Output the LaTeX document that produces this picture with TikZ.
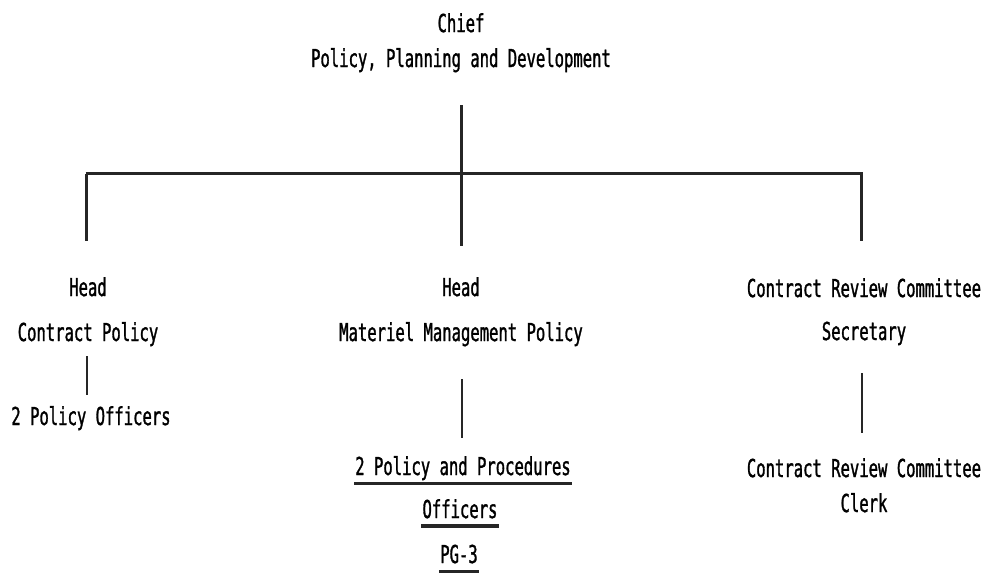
\documentclass[tikz,border=0pt]{standalone}
\usepackage{fontspec}
\newfontfamily\tw[FakeStretch=0.63,FakeBold=1.2]{DejaVu Sans Mono}
\begin{document}
\begin{tikzpicture}[x=1pt,y=-1pt,
  lbl/.style={anchor=base,inner sep=0pt,font=\tw\fontsize{24.7}{28}\selectfont},
  conn/.style={line width=2.1pt,black!85},
  bar/.style={line width=3.6pt,black!85},
  ul/.style={line width=3.8pt,black!85}]
\useasboundingbox (0,0) rectangle (988,574);
% texts
\node[lbl] (chief) at (461,32) {Chief};
\node[lbl] (ppd) at (461,67) {Policy, Planning and Development};
\node[lbl] (headL) at (88,296) {Head};
\node[lbl] (cpol) at (88,341) {Contract Policy};
\node[lbl] (polo) at (91,425) {2 Policy Officers};
\node[lbl] (headM) at (461,296) {Head};
\node[lbl] (mmp) at (461,341) {Materiel Management Policy};
\node[lbl] (pp1) at (463,475) {2 Policy and Procedures};
\node[lbl] (pp2) at (460,518) {Officers};
\node[lbl] (pp3) at (459,563) {PG-3};
\node[lbl] (crcs) at (864,297) {Contract Review Committee};
\node[lbl] (secr) at (864,340) {Secretary};
\node[lbl] (crcc) at (864,477) {Contract Review Committee};
\node[lbl] (clerk) at (864,512) {Clerk};
% junction coordinates
\coordinate (top) at (461.5,105);
\coordinate (barM) at (461.5,173.5);
\coordinate (barL) at (86.5,173.5);
\coordinate (barR) at (861.5,173.5);
\coordinate (dropL) at (86.5,241);
\coordinate (dropM) at (461.5,246);
\coordinate (dropR) at (861.5,241);
\coordinate (lL1) at (86.7,356);
\coordinate (lL2) at (86.7,395);
\coordinate (lM1) at (462.3,379);
\coordinate (lM2) at (462.3,438);
\coordinate (lR1) at (861.7,373);
\coordinate (lR2) at (861.7,433);
% connectors
\draw[bar] ([xshift=-1pt]barL) -- ([xshift=1pt]barR);
\draw[conn] (top) -- (barM);
\draw[conn] (barL) -- (dropL);
\draw[conn] (barM) -- (dropM);
\draw[conn] (barR) -- (dropR);
\draw[conn] (lL1) -- (lL2);
\draw[conn] (lM1) -- (lM2);
\draw[conn] (lR1) -- (lR2);
% underlines
\draw[ul] ([xshift=-1pt,yshift=-8.5pt]pp1.base west) -- ([xshift=1pt,yshift=-8.5pt]pp1.base east);
\draw[ul] ([xshift=-1pt,yshift=-8pt]pp2.base west) -- ([xshift=1pt,yshift=-8pt]pp2.base east);
\draw[ul] ([xshift=-1pt,yshift=-8.5pt]pp3.base west) -- ([xshift=1pt,yshift=-8.5pt]pp3.base east);
\end{tikzpicture}
\end{document}
